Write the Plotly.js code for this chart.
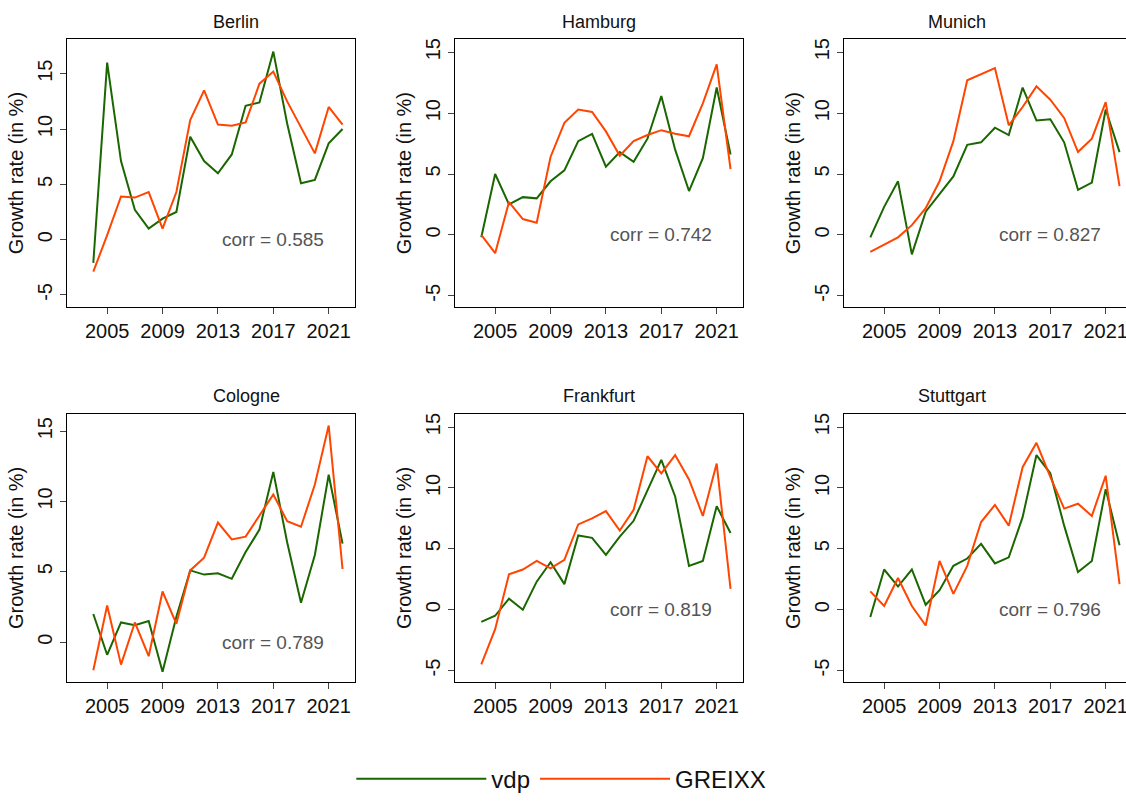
<!DOCTYPE html>
<html>
<head>
<meta charset="utf-8">
<script src="https://cdn.plot.ly/plotly-3.0.1.min.js"></script>
<style>body{margin:0;overflow:hidden;background:#fff}</style>
</head>
<body>
<div id="plot"></div>
<script>
const years = [2004,2005,2006,2007,2008,2009,2010,2011,2012,2013,2014,2015,2016,2017,2018,2019,2020,2021,2022]
const cities = ["Berlin", "Hamburg", "Munich", "Cologne", "Frankfurt", "Stuttgart"]
const corrs = ["0.585", "0.742", "0.827", "0.789", "0.819", "0.796"]

const vdpBerlin    = [-2.1,16.0,7.1,2.7,1.0,1.9,2.5,9.3,7.1,6.0,7.7,12.1,12.4,17.0,10.5,5.1,5.4,8.7,10.0]
const greixxBerlin = [-2.9,0.4,3.9,3.8,4.3,1.0,4.3,10.8,13.5,10.4,10.3,10.6,14.1,15.2,12.5,10.1,7.8,12.0,10.4]
const vdpHamburg    = [-0.2,5.0,2.5,3.1,3.0,4.4,5.3,7.7,8.3,5.6,6.8,6.0,7.9,11.4,7.0,3.6,6.3,12.1,6.6]
const greixxHamburg = [0.0,-1.5,2.7,1.3,1.0,6.4,9.2,10.3,10.1,8.5,6.5,7.7,8.2,8.6,8.3,8.1,10.8,14.0,5.4]
const vdpMunich    = [-0.2,2.3,4.4,-1.6,1.9,3.4,4.8,7.4,7.6,8.8,8.2,12.1,9.4,9.5,7.6,3.7,4.3,10.3,6.8]
const greixxMunich = [-1.4,-0.8,-0.2,0.8,2.2,4.4,7.7,12.7,13.2,13.7,9.0,10.5,12.2,11.1,9.6,6.8,7.9,10.9,4.0]
const vdpCologne    = [2.0,-0.9,1.4,1.2,1.5,-2.1,1.8,5.1,4.8,4.9,4.5,6.4,8.0,12.1,7.1,2.8,6.2,11.9,7.0]
const greixxCologne = [-2.0,2.6,-1.6,1.4,-1.0,3.6,1.3,5.1,6.0,8.5,7.3,7.5,9.0,10.5,8.6,8.2,11.2,15.4,5.2]
const vdpFrankfurt    = [-1.0,-0.5,0.9,0.0,2.3,3.9,2.1,6.1,5.9,4.5,6.0,7.3,9.8,12.3,9.3,3.6,4.0,8.5,6.3]
const greixxFrankfurt = [-4.5,-1.6,2.9,3.3,4.0,3.4,4.1,7.0,7.5,8.1,6.5,8.2,12.6,11.2,12.7,10.7,7.7,12.0,1.7]
const vdpStuttgart    = [-0.6,3.3,1.9,3.3,0.4,1.6,3.6,4.2,5.4,3.8,4.3,7.6,12.7,11.2,6.9,3.1,4.0,9.9,5.3]
const greixxStuttgart = [1.5,0.3,2.6,0.3,-1.3,4.0,1.3,3.6,7.2,8.6,6.9,11.7,13.7,10.9,8.3,8.7,7.7,11.0,2.1]

const vdp = [vdpBerlin, vdpHamburg, vdpMunich, vdpCologne, vdpFrankfurt, vdpStuttgart]
const greixx = [greixxBerlin, greixxHamburg, greixxMunich, greixxCologne, greixxFrankfurt, greixxStuttgart]

const W = 1134, H = 802
const colPx = [[67,355],[455,743],[844,1132]]
const rowPx = [[40,311],[420,691]]
const yRanges = [[-6.07,18.1],[-5.9,16.05],[-5.9,16.05],[-2.8,16.2],[-5.9,16.05],[-5.9,16.05]]
const font = "Liberation Sans, Arial, sans-serif"

let data = []
let layout = {
    width: W, height: H,
    margin: { l: 0, r: 0, t: 0, b: 0 },
    paper_bgcolor: "white", plot_bgcolor: "white",
    font: { family: font, size: 20, color: "#111" },
    showlegend: true,
    legend: { orientation: "h", x: 0.495, xanchor: "center", y: 1 - 790/H, yanchor: "middle",
              font: { size: 24 }, itemwidth: 130, tracegroupgap: 60 },
    annotations: []
}

cities.forEach((city, i) => {
    const n = i + 1
    const xa = "x" + (n === 1 ? "" : n), ya = "y" + (n === 1 ? "" : n)
    const c = colPx[i % 3], r = rowPx[Math.floor(i / 3)]
    data.push({ x: years, y: vdp[i], xaxis: xa, yaxis: ya, mode: "lines", name: "vdp",
                line: { color: "#1a6600", width: 2 }, showlegend: i === 0 })
    data.push({ x: years, y: greixx[i], xaxis: xa, yaxis: ya, mode: "lines", name: "GREIXX",
                line: { color: "#ff4500", width: 2 }, showlegend: i === 0 })
    const axKey = n === 1 ? "" : n
    layout["xaxis" + axKey] = {
        domain: [c[0]/W, c[1]/W], anchor: ya, range: [2002.1, 2022.9],
        tickvals: [2005, 2009, 2013, 2017, 2021], ticks: "outside", ticklen: 6,
        showgrid: false, zeroline: false, showline: true, linecolor: "black", mirror: true, linewidth: 1.3
    }
    layout["yaxis" + axKey] = {
        domain: [1 - r[1]/H, 1 - r[0]/H], anchor: xa, range: yRanges[i],
        tickvals: [-5, 0, 5, 10, 15], ticktext: ["-5", "0", "5", "10", "15"], tickangle: -90,
        ticks: "outside", ticklen: 6, showgrid: false, zeroline: false,
        showline: true, linecolor: "black", mirror: true, linewidth: 1.3,
        title: { text: "Growth rate (in %)", font: { size: 20 }, standoff: 4 }
    }
    layout.annotations.push({ text: city, xref: "paper", yref: "paper", yanchor: "bottom",
        x: (c[0] + c[1]) / 2 / W, y: 1 - (r[0] - 6) / H, showarrow: false, font: { size: 18 } })
    layout.annotations.push({ text: "corr = " + corrs[i], xref: xa, yref: ya,
        x: 2017, y: 0, showarrow: false, font: { size: 19, color: "#555" } })
})

Plotly.newPlot("plot", data, layout, { displayModeBar: false })
</script>
</body>
</html>
